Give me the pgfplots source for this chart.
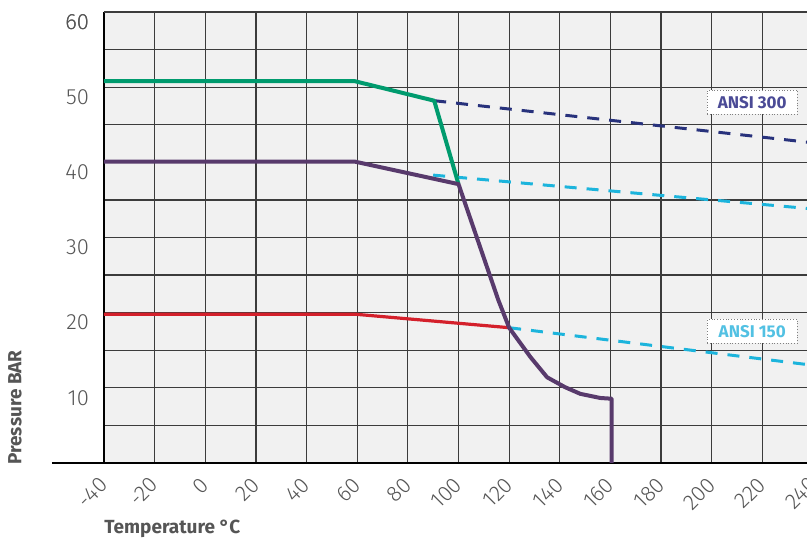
\documentclass[border=0pt]{standalone}
\usepackage{fontspec}
\setmainfont{Fira Sans}
\newfontfamily\lightfont{Fira Sans Light}
\usepackage{pgfplots}
\pgfplotsset{compat=1.18}
\definecolor{bg}{HTML}{F1F1F1}
\definecolor{gridc}{HTML}{3C3C3C}
\definecolor{cgreen}{HTML}{009B6E}
\definecolor{cpurple}{HTML}{583A6C}
\definecolor{cred}{HTML}{D4202B}
\definecolor{cnavy}{HTML}{28327C}
\definecolor{ccyan}{HTML}{1CB4DC}
\definecolor{tnavy}{HTML}{4B4B96}
\definecolor{tcyan}{HTML}{52C1E3}
\definecolor{labc}{HTML}{555555}
\begin{document}
\begin{tikzpicture}
\begin{axis}[
  scale only axis,
  width=354.5pt, height=225.5pt,
  xmin=-40, xmax=240, ymin=0, ymax=60,
  axis background/.style={fill=bg},
  axis lines*=left,
  axis line style={line width=1pt, black},
  xtick={-40,-20,...,240},
  ytick={10,20,...,60},
  minor ytick={5,15,...,55},
  extra y ticks={60},
  grid=both,
  major grid style={gridc, line width=0.6pt},
  minor grid style={gridc, line width=0.6pt},
  major tick length=0pt, minor tick length=0pt,
  /pgf/number format/assume math mode=true,
  tick label style={font=\lightfont\fontsize{11}{13}\selectfont, text=labc},
  xticklabel style={xshift=0pt, yshift=-9pt, rotate=45, anchor=east, inner sep=0pt},
  yticklabel style={xshift=-4pt, yshift=-5pt},
  clip=false,
]
\draw[black, line width=1pt] ([xshift=-26pt]rel axis cs:0,0) -- (rel axis cs:1,0);
% dashed ANSI lines
\addplot[cnavy, line width=1.5pt, dash pattern=on 6pt off 5pt] coordinates {(90.4,48.2) (240,42.6)};
\addplot[ccyan, line width=1.5pt, dash pattern=on 6pt off 5pt] coordinates {(90,38.3) (240,33.8)};
\addplot[ccyan, line width=1.5pt, dash pattern=on 6pt off 5pt] coordinates {(120,18.0) (240,13.0)};
% red
\addplot[cred, line width=1.6pt] coordinates {(-40,19.8) (59,19.8) (120,18.0)};
% green
\addplot[cgreen, line width=2pt, line join=round] coordinates {(-40,50.8) (59,50.8) (90.4,48.2) (100,37.1)};
% purple
\addplot[cpurple, line width=2pt, line join=round] coordinates {(-40,40.1) (59,40.1) (100,37.1) (115.7,21.7) (120,18.0) (128.4,14.1) (135,11.4) (142,10.1) (148.1,9.2) (156,8.65) (160.5,8.55) (160.5,0)};
\node[draw=gray, densely dotted, fill=white, minimum width=45pt, minimum height=12pt, inner sep=0pt, text=tnavy, font=\bfseries\fontsize{8.5}{10}\selectfont] at (axis cs:216,48) {ANSI 300};
\node[draw=gray, densely dotted, fill=white, minimum width=45pt, minimum height=12pt, inner sep=0pt, text=tcyan, font=\bfseries\fontsize{8.5}{10}\selectfont] at (axis cs:216,17.5) {ANSI 150};
\node[rotate=90, anchor=west, inner sep=0pt, text=labc, font=\bfseries\fontsize{9.5}{11}\selectfont] at ([xshift=-44.5pt, yshift=-1pt]rel axis cs:0,0) {Pressure BAR};
\node[anchor=west, inner sep=0pt, text=labc, font=\bfseries\fontsize{9.5}{11}\selectfont] at ([yshift=-33pt]rel axis cs:0,0) {Temperature °C};
\end{axis}
\pgfresetboundingbox
\path[use as bounding box] (-52pt,-38pt) rectangle (351.5pt,231.5pt);
\end{tikzpicture}
\end{document}
